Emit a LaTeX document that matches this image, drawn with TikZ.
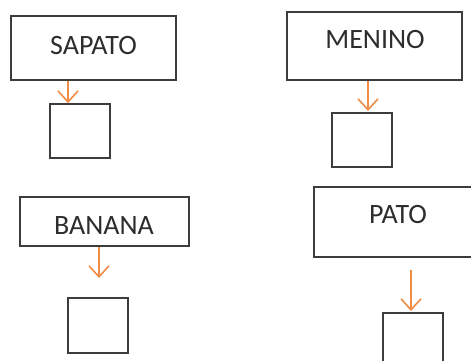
\documentclass[tikz,border=0pt]{standalone}
\usepackage{fontspec}
\setmainfont{Carlito}
\usetikzlibrary{arrows.meta}
\definecolor{arrorange}{RGB}{240,140,70}
\definecolor{boxgray}{RGB}{60,60,60}
\definecolor{txtgray}{RGB}{45,45,45}
\begin{document}
\begin{tikzpicture}[x=1pt,y=-1pt,
  wordbox/.style={draw=boxgray, line width=1.7pt, rectangle, inner sep=0pt},
  answerbox/.style={draw=boxgray, line width=1.7pt, rectangle, inner sep=0pt, minimum width=60pt},
  word/.style={inner sep=0pt, text=txtgray, font=\fontsize{28}{32}\selectfont},
  arr/.style={draw=arrorange, line width=1.6pt, -{Straight Barb[length=11pt, width=20pt, line width=1.6pt]}}
]
\useasboundingbox (0,0) rectangle (471,361);
\clip (0,0) rectangle (471,361);
% top left
\node[wordbox, minimum width=165pt, minimum height=64pt] (sapato) at (93.5,48) {};
\node[word] (tsapato) at (93.5,46) {SAPATO};
\node[answerbox, minimum height=54pt] (box1) at (80,131) {};
\coordinate (a1) at (68,0);
\draw[arr] (sapato.south -| a1) -- (box1.north -| a1);
% top right
\node[wordbox, minimum width=175pt, minimum height=68pt] (menino) at (374.5,46) {};
\node[word] (tmenino) at (375,40) {MENINO};
\node[answerbox, minimum height=54pt] (box2) at (362,140) {};
\coordinate (a2) at (368,0);
\coordinate (e2) at (368,111);
\draw[arr] (menino.south -| a2) -- (e2);
% bottom left
\node[wordbox, minimum width=169pt, minimum height=49pt] (banana) at (104.5,221.5) {};
\node[word] (tbanana) at (104,226) {BANANA};
\node[answerbox, minimum height=55pt] (box3) at (98,325.5) {};
\coordinate (a3) at (99,0);
\coordinate (e3) at (99,278);
\draw[arr] (banana.south -| a3) -- (e3);
% bottom right
\node[wordbox, minimum width=176pt, minimum height=70pt] (pato) at (402,222) {};
\node[word] (tpato) at (398,215) {PATO};
\node[answerbox, minimum height=57pt] (box4) at (413,341.5) {};
\coordinate (s4) at (411,270);
\coordinate (e4) at (411,311);
\draw[arr] (s4) -- (e4);
\end{tikzpicture}
\end{document}
